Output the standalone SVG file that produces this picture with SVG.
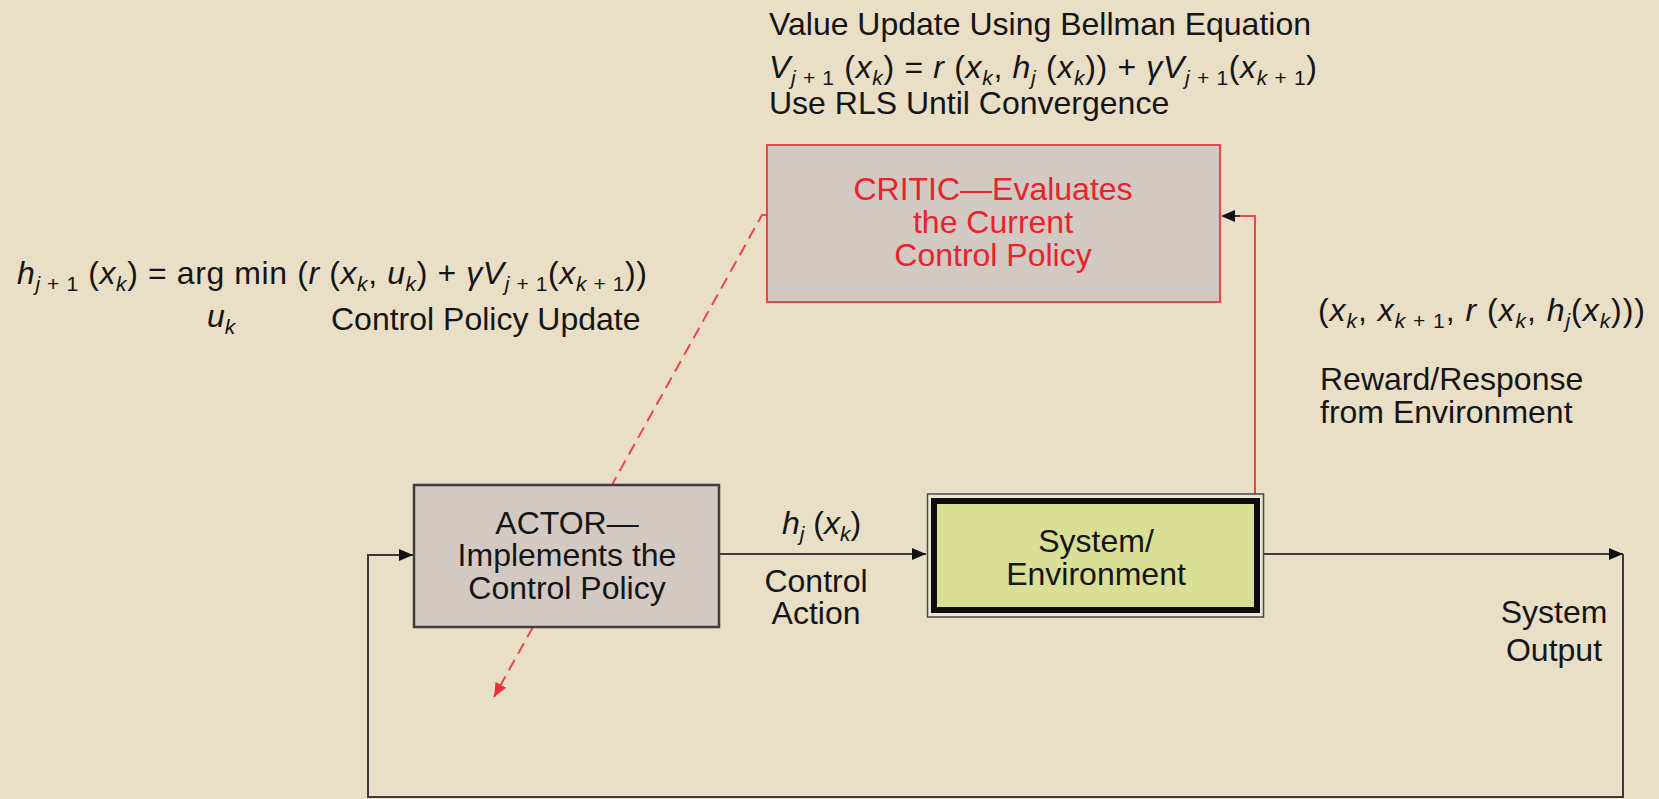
<svg xmlns="http://www.w3.org/2000/svg" width="1659" height="799" viewBox="0 0 1659 799">
<style>
text{font-family:"Liberation Sans",Arial,Helvetica,sans-serif;font-size:32px;fill:#151515}
.c{text-anchor:middle}
.red{fill:#e8232b}
.i{font-style:italic}
.s{font-size:21px}
.ln{fill:none;stroke:#3a3a3a;stroke-width:2}
.rl{fill:none;stroke:#e8464b;stroke-width:2}
.dash{fill:none;stroke:#e8464b;stroke-width:2;stroke-dasharray:12 7}
</style>
<defs>
<marker id="ah" viewBox="0 0 14 12" refX="14" refY="6" markerWidth="14" markerHeight="12" markerUnits="userSpaceOnUse" orient="auto">
<path d="M0,0 L14,6 L0,12 Z" fill="#111"/>
</marker>
<marker id="ahr" viewBox="0 0 14 12" refX="14" refY="6" markerWidth="14" markerHeight="12" markerUnits="userSpaceOnUse" orient="auto">
<path d="M0,0 L14,6 L0,12 Z" fill="#e8323a"/>
</marker>
</defs>
<rect x="0" y="0" width="1659" height="799" fill="#e9dec6"/>

<g id="connectors">
<path class="dash" d="M766,215 L762,215 L494,697" marker-end="url(#ahr)"/>
<path class="ln" d="M719,554 L926,554" marker-end="url(#ah)"/>
<path class="ln" d="M1264,554 L1623,554" marker-end="url(#ah)"/>
<path class="ln" d="M1623,554 L1623,797 L368,797 L368,555 L413,555" marker-end="url(#ah)"/>
<path class="rl" d="M1255,497 L1255,216 L1236,216"/>
<path d="M1235,216 L1240,216" stroke="#3a3a3a" stroke-width="2"/>
<path d="M1221,216 L1235,210 L1235,222 Z" fill="#111"/>
</g>

<g id="bellman-label">
<text x="769" y="35">Value Update Using Bellman Equation</text>
<text x="769" y="78" textLength="548" lengthAdjust="spacing"><tspan class="i">V</tspan><tspan class="s" dy="7"><tspan class="i">j</tspan> + 1</tspan><tspan dy="-7"> (</tspan><tspan class="i">x</tspan><tspan class="s i" dy="7">k</tspan><tspan dy="-7">) = </tspan><tspan class="i">r</tspan><tspan> (</tspan><tspan class="i">x</tspan><tspan class="s i" dy="7">k</tspan><tspan dy="-7">, </tspan><tspan class="i">h</tspan><tspan class="s i" dy="7">j</tspan><tspan dy="-7"> (</tspan><tspan class="i">x</tspan><tspan class="s i" dy="7">k</tspan><tspan dy="-7">)) + </tspan><tspan class="i">γV</tspan><tspan class="s" dy="7"><tspan class="i">j</tspan> + 1</tspan><tspan dy="-7">(</tspan><tspan class="i">x</tspan><tspan class="s" dy="7"><tspan class="i">k</tspan> + 1</tspan><tspan dy="-7">)</tspan></text>
<text x="769" y="114">Use RLS Until Convergence</text>
</g>

<g id="policy-update-label">
<text x="17" y="284" textLength="630" lengthAdjust="spacing"><tspan class="i">h</tspan><tspan class="s" dy="7"><tspan class="i">j</tspan> + 1</tspan><tspan dy="-7"> (</tspan><tspan class="i">x</tspan><tspan class="s i" dy="7">k</tspan><tspan dy="-7">) = arg min (</tspan><tspan class="i">r</tspan><tspan> (</tspan><tspan class="i">x</tspan><tspan class="s i" dy="7">k</tspan><tspan dy="-7">, </tspan><tspan class="i">u</tspan><tspan class="s i" dy="7">k</tspan><tspan dy="-7">) +  </tspan><tspan class="i">γV</tspan><tspan class="s" dy="7"><tspan class="i">j</tspan> + 1</tspan><tspan dy="-7">(</tspan><tspan class="i">x</tspan><tspan class="s" dy="7"><tspan class="i">k</tspan> + 1</tspan><tspan dy="-7">))</tspan></text>
<text x="207" y="327"><tspan class="i">u</tspan><tspan class="s i" dy="7">k</tspan></text>
<text x="331" y="330">Control Policy Update</text>
</g>

<g id="reward-label">
<text x="1318" y="321" textLength="327" lengthAdjust="spacing"><tspan>(</tspan><tspan class="i">x</tspan><tspan class="s i" dy="7">k</tspan><tspan dy="-7">, </tspan><tspan class="i">x</tspan><tspan class="s" dy="7"><tspan class="i">k</tspan> + 1</tspan><tspan dy="-7">, </tspan><tspan class="i">r</tspan><tspan> (</tspan><tspan class="i">x</tspan><tspan class="s i" dy="7">k</tspan><tspan dy="-7">, </tspan><tspan class="i">h</tspan><tspan class="s i" dy="7">j</tspan><tspan dy="-7">(</tspan><tspan class="i">x</tspan><tspan class="s i" dy="7">k</tspan><tspan dy="-7">)))</tspan></text>
<text x="1320" y="390">Reward/Response</text>
<text x="1320" y="423">from Environment</text>
</g>

<g id="critic">
<rect x="767" y="145" width="453" height="157" fill="#d3c9c3" stroke="#e8464b" stroke-width="2"/>
<text class="c red" x="993" y="200">CRITIC—Evaluates</text>
<text class="c red" x="993" y="233">the Current</text>
<text class="c red" x="993" y="266">Control Policy</text>
</g>

<g id="actor">
<rect x="414" y="485" width="305" height="142" fill="#d3c9c3" stroke="#3f3f3f" stroke-width="2.5"/>
<text class="c" x="567" y="534">ACTOR—</text>
<text class="c" x="567" y="566">Implements the</text>
<text class="c" x="567" y="599">Control Policy</text>
</g>

<g id="control-action-label">
<text x="782" y="534"><tspan class="i">h</tspan><tspan class="s i" dy="7">j</tspan><tspan dy="-7"> (</tspan><tspan class="i">x</tspan><tspan class="s i" dy="7">k</tspan><tspan dy="-7">)</tspan></text>
<text class="c" x="816" y="592">Control</text>
<text class="c" x="816" y="624">Action</text>
</g>

<g id="system">
<rect x="927.5" y="494" width="336" height="123" fill="#ece6d6" stroke="#4a4a4a" stroke-width="1.5"/>
<rect x="934" y="501" width="323" height="109" fill="#d9df95" stroke="#0c0c0c" stroke-width="6"/>
<text class="c" x="1096" y="552">System/</text>
<text class="c" x="1096" y="585">Environment</text>
</g>

<g id="system-output-label">
<text class="c" x="1554" y="623">System</text>
<text class="c" x="1554" y="661">Output</text>
</g>
</svg>
